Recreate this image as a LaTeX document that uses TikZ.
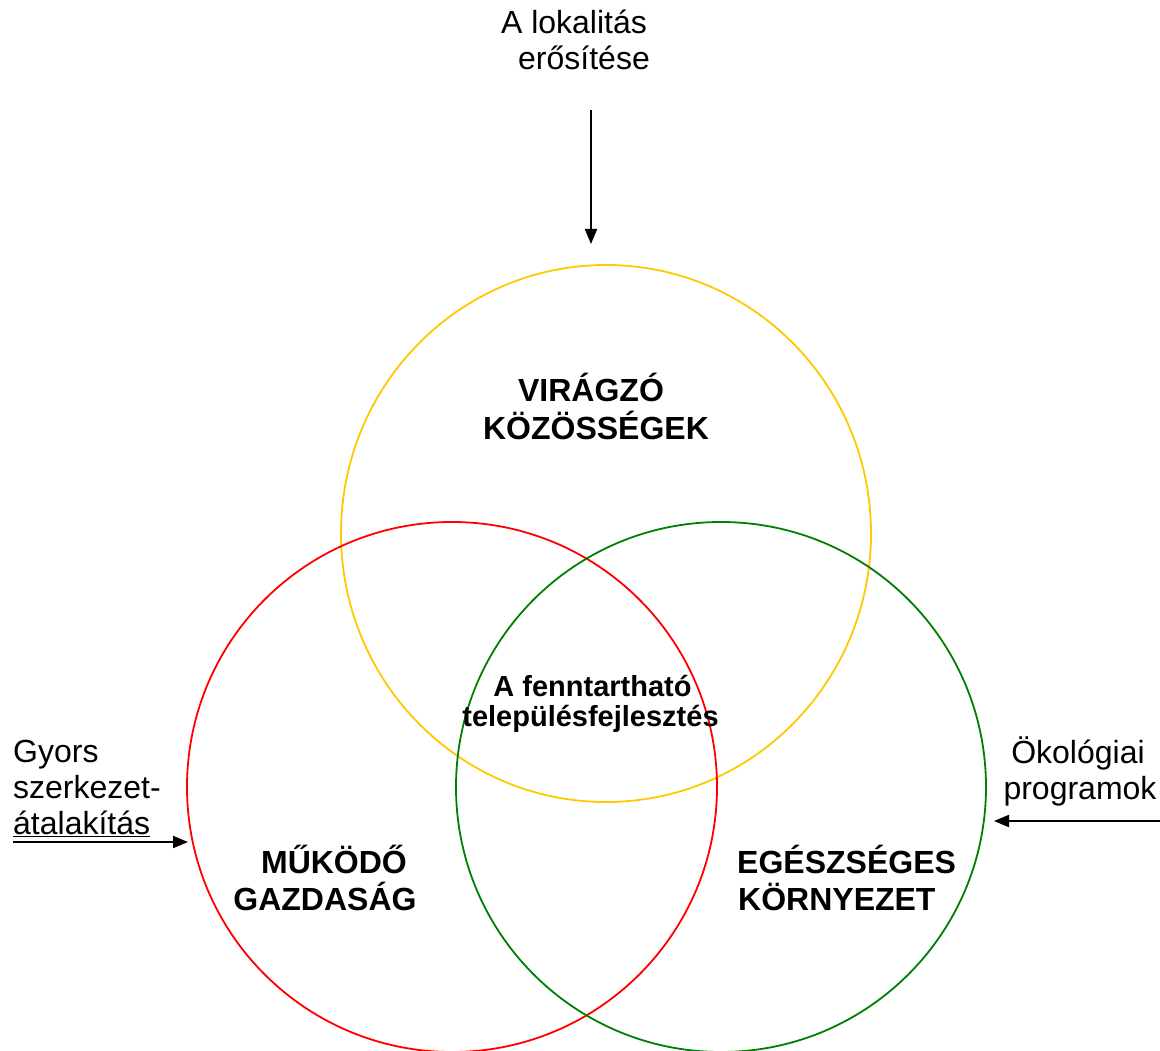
\documentclass[tikz,border=0pt]{standalone}
\usepackage{fontspec}
\setmainfont{Liberation Sans}
\usetikzlibrary{arrows.meta,shapes.geometric}
\definecolor{cyel}{HTML}{FFC800}
\definecolor{cred}{HTML}{FF0000}
\definecolor{cgrn}{HTML}{008000}
\begin{document}
\begin{tikzpicture}[x=1pt,y=-1pt,
  ring/.style={draw,line width=1.8pt,circle,minimum size=530pt,inner sep=0pt},
  lbl/.style={font=\fontsize{32}{36.8}\selectfont,anchor=base,inner sep=0pt},
  blbl/.style={font=\fontsize{32}{36.8}\selectfont\bfseries,anchor=base,inner sep=0pt},
  clbl/.style={font=\fontsize{29}{30}\selectfont\bfseries,anchor=base,inner sep=0pt},
  arr/.style={line width=2pt,-{Triangle[length=15pt,width=12pt]}}]
\useasboundingbox (0,0) rectangle (1160,1051);
\begin{scope}
\clip (0,0) rectangle (1160,1051);
\node[draw=cyel,line width=1.8pt,ellipse,minimum width=530pt,minimum height=537pt,inner sep=0pt] (yel) at (606,533.5) {};
\node[ring,draw=cred] (red) at (452,787) {};
\node[ring,draw=cgrn] (grn) at (721,787) {};
\end{scope}
% top
\node[lbl] (t1) at (574,34) {A lokalitás};
\node[lbl] (t2) at (584,70) {erősítése};
\coordinate (ta) at (591,110);
\coordinate (tb) at (591,244);
\draw[arr] (ta) -- (tb);
% left
\node[lbl,anchor=base west] (l1) at (13,762) {Gyors};
\node[lbl,anchor=base west] (l2) at (13,798) {szerkezet-};
\node[lbl,anchor=base west] (l3) at (13,834) {\underline{átalakítás}};
\coordinate (la) at (13,842);
\coordinate (lb) at (188,842);
\draw[arr] (la) -- (lb);
% right
\node[lbl] (r1) at (1078,763) {Ökológiai};
\node[lbl] (r2) at (1080,799) {programok};
\coordinate (ra) at (1160,821);
\coordinate (rb) at (994,821);
\draw[arr] (ra) -- (rb);
% circle labels
\node[blbl] (v1) at (591,401) {VIRÁGZÓ};
\node[blbl] (v2) at (596,439) {KÖZÖSSÉGEK};
\node[blbl] (m1) at (334,873) {MŰKÖDŐ};
\node[blbl] (m2) at (325,910) {GAZDASÁG};
\node[blbl,anchor=base west] (e1) at (737,873) {EGÉSZSÉGES};
\node[blbl,anchor=base west] (e2) at (738,910) {KÖRNYEZET};
\node[clbl] (c1) at (592.5,696) {A fenntartható};
\node[clbl] (c2) at (590.5,726) {településfejlesztés};
\end{tikzpicture}
\end{document}
